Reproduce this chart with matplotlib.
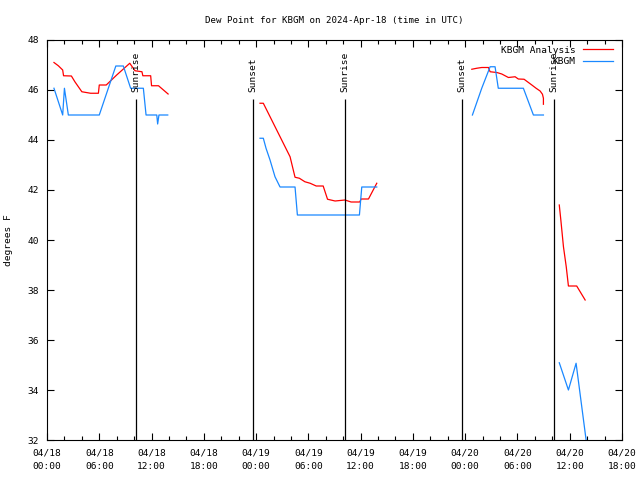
import numpy as np
import pandas as pd
import matplotlib
matplotlib.use('Agg')
import matplotlib.pyplot as plt
import matplotlib.dates as mdates

start = pd.Timestamp('2024-04-18 00:00')
nan = np.nan

# hours since 2024-04-18 00:00 UTC, nan breaks the line
analysis_hours = [0.8, 1.3, 1.8, 1.9, 2.8, 3.2, 4.0, 5.0, 5.9, 6.0, 6.8, 8.0, 9.5, 10.1, 10.9, 11.0, 11.9, 12.0, 12.8, 13.9,
                  nan,
                  24.45, 24.83, 27.9, 28.47, 28.97, 29.6, 30.2, 30.9, 31.7, 32.2, 33.07, 34.2, 34.9, 35.9, 36.05, 36.9, 37.85,
                  nan,
                  48.76, 49.33, 49.9, 50.67, 50.86, 51.63, 52.2, 52.96, 53.73, 54.1, 54.76, 55.65, 56.14, 56.6, 56.87, 56.98, 56.98,
                  nan,
                  58.8, 58.98, 59.28, 59.6, 59.85, 60.8, 61.77]
analysis_dewpt = [47.1, 46.97, 46.8, 46.57, 46.56, 46.33, 45.93, 45.87, 45.87, 46.2, 46.2, 46.6, 47.07, 46.77, 46.73, 46.57, 46.57, 46.17, 46.17, 45.84,
                  nan,
                  45.47, 45.47, 43.33, 42.51, 42.47, 42.33, 42.27, 42.16, 42.16, 41.63, 41.56, 41.6, 41.52, 41.52, 41.64, 41.64, 42.27,
                  nan,
                  46.83, 46.87, 46.9, 46.9, 46.73, 46.7, 46.64, 46.5, 46.53, 46.44, 46.43, 46.2, 46.07, 45.96, 45.83, 45.67, 45.43,
                  nan,
                  41.4, 40.8, 39.73, 38.93, 38.16, 38.16, 37.6]

obs_hours = [0.8, 1.8, 2.0, 2.45, 6.0, 7.9, 8.76, 9.6, 11.06, 11.37, 12.6, 12.7, 12.85, 13.86,
             nan,
             24.45, 24.83, 25.14, 25.6, 26.17, 26.75, 28.47, 28.74, 35.86, 36.13, 37.85,
             nan,
             48.83, 49.9, 50.86, 51.43, 51.8, 54.68, 55.83, 56.98,
             nan,
             58.8, 59.85, 60.73, 61.88]
obs_dewpt = [46.07, 45.0, 46.07, 45.0, 45.0, 46.96, 46.96, 46.07, 46.07, 45.0, 45.0, 44.64, 45.0, 45.0,
             nan,
             44.07, 44.07, 43.67, 43.2, 42.53, 42.12, 42.12, 41.0, 41.0, 42.12, 42.12,
             nan,
             45.0, 46.07, 46.93, 46.93, 46.07, 46.07, 45.0, 45.0,
             nan,
             35.09, 34.0, 35.07, 32.0]

sun_hours = [10.22, 23.65, 34.21, 47.65, 58.21]
sun_names = ['Sunrise', 'Sunset', 'Sunrise', 'Sunset', 'Sunrise']


def to_time(hours):
    return start + pd.to_timedelta(np.array(hours, dtype=float), unit='h')


plt.rcParams['font.family'] = 'DejaVu Sans Mono'
plt.rcParams['font.size'] = 6.8

fig = plt.figure(figsize=(6.4, 4.8), dpi=100)
ax = fig.add_axes([47/640, 40/480, 575/640, 400/480])

ax.plot(to_time(analysis_hours), analysis_dewpt, color='red', lw=0.9, label='KBGM Analysis')
ax.plot(to_time(obs_hours), obs_dewpt, color='#1a88ff', lw=0.9, label='KBGM')

for h, name in zip(sun_hours, sun_names):
    t = to_time([h])[0]
    ax.vlines(t, 32, 45.65, color='black', lw=0.9)
    ax.text(t, 45.9, name, rotation=90, ha='center', va='bottom')

ax.set_xlim(start, start + pd.Timedelta(hours=66))
ax.set_ylim(32, 48)
ax.set_yticks(np.arange(32, 49, 2))
ax.xaxis.set_major_locator(mdates.HourLocator(byhour=[0, 6, 12, 18]))
ax.xaxis.set_minor_locator(mdates.HourLocator(interval=2))
ax.xaxis.set_major_formatter(mdates.DateFormatter('%m/%d\n%H:%M'))
ax.tick_params(which='both', direction='in', top=True, right=True, width=0.8)
ax.tick_params(which='major', length=5, pad=6)
ax.tick_params(which='minor', length=3)
for lbl in ax.get_xticklabels():
    lbl.set_linespacing(1.7)

ax.set_ylabel('degrees F', labelpad=10)
ax.set_title('Dew Point for KBGM on 2024-Apr-18 (time in UTC)', fontsize=6.6, pad=12)
ax.legend(loc='upper right', frameon=False, markerfirst=False, handlelength=3.2, fontsize=6.8,
          labelspacing=0.25, borderaxespad=0.2, bbox_to_anchor=(0.995, 1.0))

fig.savefig('out.png', dpi=100)
